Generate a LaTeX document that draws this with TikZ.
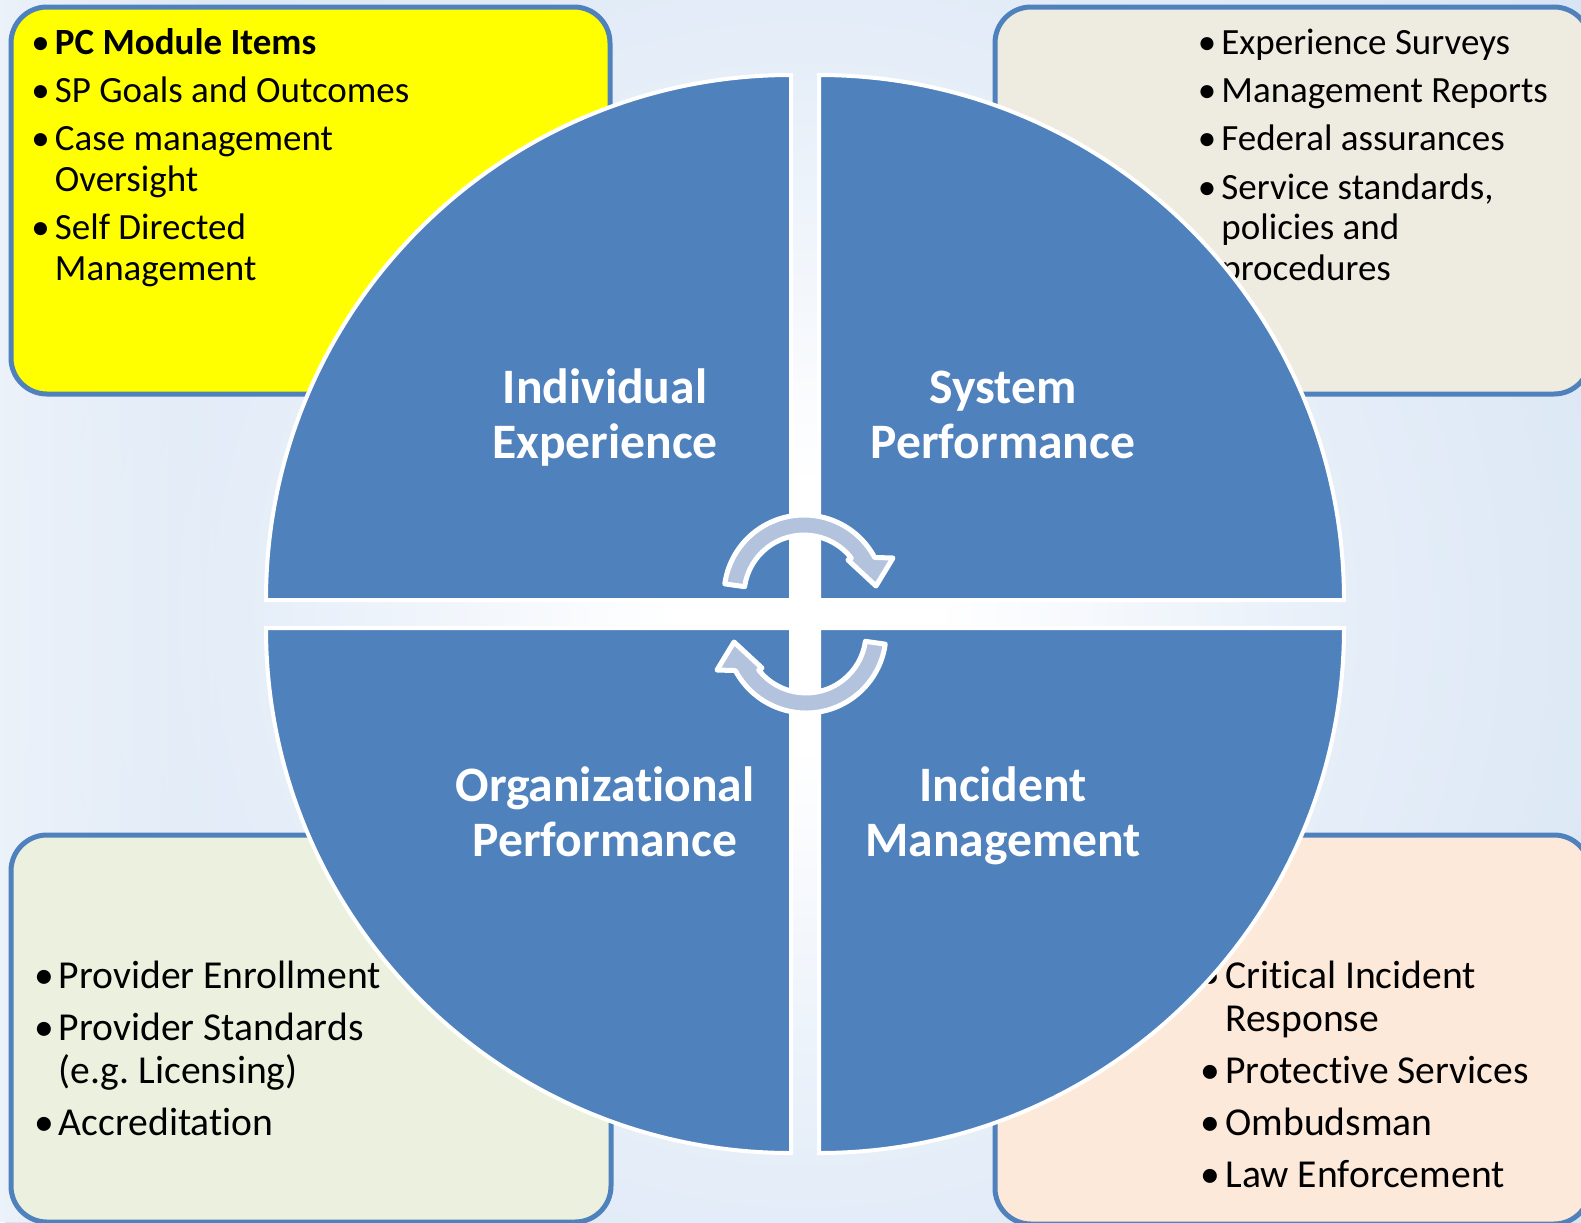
\documentclass[tikz,border=0pt]{standalone}
\usepackage{fontspec}
\setmainfont{Carlito}[Ligatures=NoCommon]
\frenchspacing
\usetikzlibrary{fadings}
\definecolor{quadBlue}{RGB}{79,129,189}
\definecolor{frameBlue}{RGB}{79,129,189}
\definecolor{arrowBlue}{RGB}{179,195,222}
\definecolor{panelYellow}{RGB}{255,255,0}
\definecolor{panelGrey}{RGB}{238,236,225}
\definecolor{panelGreen}{RGB}{235,241,222}
\definecolor{panelPeach}{RGB}{253,233,217}
\definecolor{bgBlue}{RGB}{214,227,243}
\definecolor{bgMid}{RGB}{228,237,248}
\definecolor{bgEdge}{RGB}{236,242,250}
% 1bp of the shading = 16 px of the square it is painted on
\pgfdeclareradialshading{bgglow}{\pgfpoint{0bp}{0bp}}{color(0bp)=(white); color(4bp)=(white); color(18bp)=(bgMid); color(33bp)=(bgBlue); color(50bp)=(bgBlue)}
\newcommand{\bul}{\llap{\textbullet\hspace{2.5pt}}}

\begin{document}
\begin{tikzpicture}[
    x=0.5pt, y=-0.5pt,
    panel/.style={draw=frameBlue, line width=2.5pt, rounded corners=18pt, anchor=north west, outer sep=0pt, inner sep=0pt},
    list/.style={anchor=base west, inner sep=0pt, font=\fontsize{18.5}{20.2}\selectfont},
    biglist/.style={list, font=\fontsize{19.8}{21.6}\selectfont},
    quarter/.style={fill=quadBlue, draw=white, line width=2pt},
    title/.style={anchor=base, inner sep=0pt, text=white, font=\fontsize{24.8}{27.7}\selectfont\bfseries},
    turnarrow/.style={fill=arrowBlue, draw=white, line width=2.5pt, line join=round},
    turn/.pic={
        \draw[turnarrow] (-1,-19) ++(-172:80) arc[start angle=-172, end angle=-28, radius=80]
            -- (88,-56) -- (71,-28) -- (43,-54) -- (46.3,-55.9)
            arc[start angle=-38, end angle=-172, radius=60] -- cycle;
    }
]
\useasboundingbox (0,0) rectangle (1581,1222);
\coordinate (hub) at (805,614);
\shade[shading=bgglow] (5,-186) rectangle (1605,1414);
% lighter haze down the left side
\fill[bgEdge, path fading=east] (0,0) rectangle (240,1222);

% corner panels
\node[panel, fill=panelYellow, minimum width=299.5pt, minimum height=193.5pt] (ieBox) at (11,7) {};
\node[panel, fill=panelGrey, minimum width=297.5pt, minimum height=193.5pt] (spBox) at (995,7) {};
\node[panel, fill=panelGreen, minimum width=300pt, minimum height=193.5pt] (opBox) at (11,835) {};
\node[panel, fill=panelPeach, minimum width=297.5pt, minimum height=194.5pt] (imBox) at (995,835) {};

\node[list] (ieList) at (54.5,54) {\begin{tabular}[t]{@{}l@{}}
    \bul\textbf{PC Module Items}\\[4pt]
    \bul SP Goals and Outcomes\\[4pt]
    \bul Case management\\
    Oversight\\[4pt]
    \bul Self Directed\\
    Management
\end{tabular}};
\node[list] (spList) at (1221,54) {\begin{tabular}[t]{@{}l@{}}
    \bul Experience Surveys\\[4pt]
    \bul Management Reports\\[4pt]
    \bul Federal assurances\\[4pt]
    \bul Service standards,\\
    policies and\\
    procedures
\end{tabular}};
\node[biglist] (opList) at (58.5,988) {\begin{tabular}[t]{@{}l@{}}
    \bul Provider Enrollment\\[4.5pt]
    \bul Provider Standards\\
    (e.g. Licensing)\\[4.5pt]
    \bul Accreditation
\end{tabular}};
\node[biglist] (imList) at (1225,988) {\begin{tabular}[t]{@{}l@{}}
    \bul Critical Incident\\
    Response\\[4.5pt]
    \bul Protective Services\\[4.5pt]
    \bul Ombudsman\\[4.5pt]
    \bul Law Enforcement
\end{tabular}};

% the four quarters of the wheel
\path[quarter] (791,600) -- ++(-525,0) arc[start angle=-180, end angle=-90, radius=525] -- cycle;
\path[quarter] (819,600) -- ++(0,-525) arc[start angle=-90, end angle=0, radius=525] -- cycle;
\path[quarter] (819,628) -- ++(525,0) arc[start angle=0, end angle=90, radius=525] -- cycle;
\path[quarter] (791,628) -- ++(0,525) arc[start angle=90, end angle=180, radius=525] -- cycle;

\node[title] (ieTitle) at (605,403) {\begin{tabular}[t]{@{}c@{}}Individual\\Experience\end{tabular}};
\node[title] (spTitle) at (1003,403) {\begin{tabular}[t]{@{}c@{}}System\\Performance\end{tabular}};
\node[title] (opTitle) at (605,801.5) {\begin{tabular}[t]{@{}c@{}}Organizational\\Performance\end{tabular}};
\node[title] (imTitle) at (1003,801.5) {\begin{tabular}[t]{@{}c@{}}Incident\\Management\end{tabular}};

% turning arrows in the middle
\pic at (hub) {turn};
\pic[rotate=180] at (hub) {turn};
\end{tikzpicture}
\end{document}
